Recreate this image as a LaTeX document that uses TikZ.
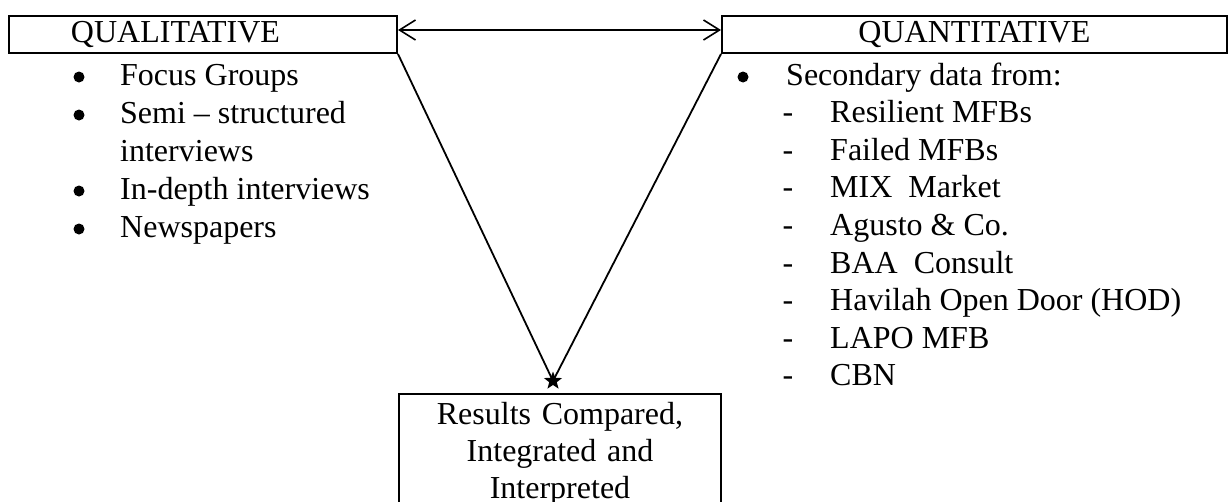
\documentclass[tikz,border=0pt]{standalone}
\usepackage{fontspec}
\setmainfont{Liberation Serif}
\usetikzlibrary{arrows.meta,shapes.geometric}
\begin{document}
\begin{tikzpicture}[x=1pt,y=-1pt,
  every node/.style={font=\fontsize{32}{37}\selectfont, text=black},
  box/.style={draw, line width=2pt, rectangle},
  item/.style={anchor=base west, inner sep=0pt},
  glyph/.style={anchor=base, inner sep=0pt},
  dot/.style={circle, fill=black, inner sep=0pt, minimum size=11pt},
  link/.style={line width=1.8pt}]
\useasboundingbox (0,0) rectangle (1229,501);
\clip (0,0) rectangle (1229,501);

% the two method boxes
\node[box, text width=388pt, inner xsep=0pt, minimum height=37pt, align=left]
  (qual) at (203,34.5) {\hspace*{62pt}QUALITATIVE};
\node[box, minimum width=505pt, minimum height=37pt, inner sep=0pt]
  (quant) at (974.5,34.5) {QUANTITATIVE};

% results box (runs off the bottom edge)
\node[box, anchor=north, text width=322pt, inner xsep=0pt, inner ysep=8pt, align=center]
  (res) at (560,393) {Results Compared,\\Integrated and\\Interpreted};

% meeting point of the two arms
\node[star, star points=5, star point ratio=2.4, fill=black, inner sep=0pt,
  minimum size=19pt] (meet) at (553,381) {};

% connectors
\draw[link, {Straight Barb[length=16pt,width=20pt,line width=1.6pt]}-{Straight Barb[length=16pt,width=20pt,line width=1.6pt]}]
  ([yshift=4.5pt]qual.east) -- ([yshift=4.5pt]quant.west);
\draw[link] (qual.south east) -- (meet.center);
\draw[link] (quant.south west) -- (meet.center);

% qualitative list
\foreach \txt/\yy/\bl [count=\i] in {Focus Groups/85/1, Semi -- structured/123/1,
    interviews/161/0, In-depth interviews/199/1, Newspapers/237/1} {
  \ifnum\bl=1 \node[dot] (qb\i) at (79,\yy-8) {};\fi
  \node[item] (qt\i) at (120,\yy) {\txt};
}

% quantitative list
\node[dot] (nb0) at (743,77) {};
\node[item] (nt0) at (786,85) {Secondary data from:};
\foreach \txt/\yy [count=\i] in {Resilient MFBs/122, Failed MFBs/160,
    MIX\ \ Market/197, Agusto \& Co./235, BAA\ \ Consult/273,
    Havilah Open Door (HOD)/310, LAPO MFB/348, CBN/385} {
  \node[glyph] (nd\i) at (788,\yy) {-};
  \node[item] (nt\i) at (830,\yy) {\txt};
}
\end{tikzpicture}
\end{document}
